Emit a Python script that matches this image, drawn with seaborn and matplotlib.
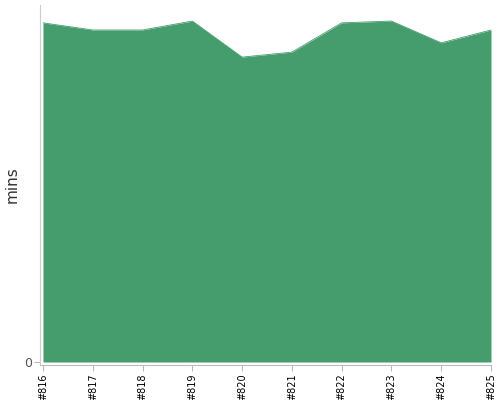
import matplotlib
matplotlib.use("Agg")
import matplotlib.pyplot as plt
import seaborn as sns
import pandas as pd

builds = ["#816", "#817", "#818", "#819", "#820", "#821", "#822", "#823", "#824", "#825"]
mins = [95.0, 93.0, 93.0, 95.5, 85.4, 86.8, 95.0, 95.5, 89.4, 93.0]

sns.set_style("white")
plt.rcParams['font.family'] = ['DejaVu Sans']

df = pd.DataFrame({"build": builds, "mins": mins, "pos": range(len(builds))})

fig = plt.figure(figsize=(5, 4), dpi=100)
ax = fig.add_axes([0.08, 0.0875, 0.902, 0.9])
color = "#459c6c"
sns.lineplot(data=df, x="pos", y="mins", ax=ax, color=color, linewidth=0.6)
ax.fill_between(df["pos"], 0, df["mins"], color=color, linewidth=0)

ax.set_xlim(-0.06, len(builds) - 1)
ax.set_ylim(-0.84, 100)
ax.set_xticks(df["pos"])
ax.set_xticklabels(builds, rotation=90, fontsize=7, color="black")
ax.set_yticks([0])
ax.set_yticklabels(["0"], fontsize=9, color="#555555")
ax.set_xlabel("")
ax.set_ylabel("mins", fontsize=11, color="#333333")
ax.yaxis.set_label_coords(-0.045, 0.5)

for s in ["top", "right"]:
    ax.spines[s].set_visible(False)
ax.spines["left"].set_color("#cccccc")
ax.spines["bottom"].set_color("#bbbbbb")
ax.tick_params(axis="x", length=4, width=0.8, color="#bbbbbb", pad=2, bottom=True)
ax.tick_params(axis="y", length=4, width=0.8, color="#bbbbbb", pad=2, left=True)

fig.savefig("out.png", dpi=100)
